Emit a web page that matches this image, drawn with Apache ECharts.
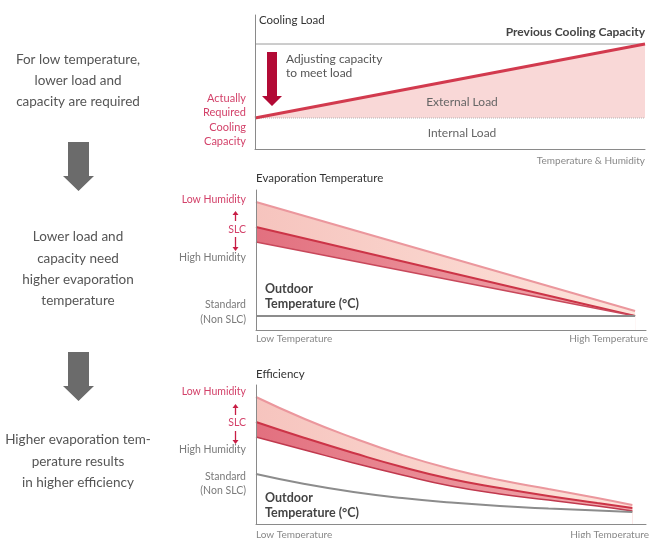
<!DOCTYPE html>
<html>
<head>
<meta charset="utf-8">
<script src="https://cdn.jsdelivr.net/npm/echarts@6/dist/echarts.min.js"></script>
<style>
  html, body { margin: 0; padding: 0; background: #fff; }
  #chart { width: 649px; height: 538px; }
</style>
</head>
<body>
<div id="chart"></div>
<script>
// cooling load panel (x: temperature & humidity 0..100)
const xLoad = [0, 100]
const requiredCapacity = [31, 105]
const internalLoad = [31, 31]
const previousCapacity = [105, 105]

// evaporation temperature panel
const xEvap = [0, 97.2]
const evapLowHumidity = [128, 19]
const evapSlc = [103, 14]
const evapHighHumidity = [88, 14]
const evapStandard = [14, 14]

// efficiency panel
const xEff = [0, 12.5, 25, 37.5, 50, 62.5, 75, 87.5, 96.5]
const effLowHumidity = [127, 105, 86, 69, 55, 44, 35, 26, 19]
const effSlc = [102, 86, 71, 57, 45, 36, 28, 21, 16]
const effHighHumidity = [87, 74, 61, 49, 38, 30, 24, 18, 13]
const effStandard = [50, 40, 32, 26, 21.5, 18, 15.5, 13.5, 12]

const FONT = 'Lato'
const RED = '#d3426a'
const GRAY_TXT = '#7a7a7a'

const pairs = (xs, ys) => xs.map((x, i) => [x, ys[i]])

const chart = echarts.init(document.getElementById('chart'))

const hGrad = (c0, c1) => ({
  type: 'linear', x: 0, y: 0, x2: 1, y2: 0,
  colorStops: [{ offset: 0, color: c0 }, { offset: 1, color: c1 }]
})

const axisPair = (gi, yMax, axisColor, w) => ({
  x: {
    gridIndex: gi, type: 'value', min: 0, max: 100, z: 20,
    axisLine: { show: true, lineStyle: { color: axisColor, width: w } },
    axisTick: { show: false }, axisLabel: { show: false }, splitLine: { show: false }
  },
  y: {
    gridIndex: gi, type: 'value', min: 0, max: yMax, z: 20,
    axisLine: { show: true, onZero: false, lineStyle: { color: axisColor, width: w } },
    axisTick: { show: false }, axisLabel: { show: false }, splitLine: { show: false }
  }
})

const a0 = axisPair(0, 134, '#8a8a8a', 1)
const a1 = axisPair(1, 140, '#8a8a8a', 1)
const a2 = axisPair(2, 139, '#8a8a8a', 1)

const txt = (x, y, text, opt) => ({
  type: 'text', x: x, y: y, silent: true, z: 100,
  style: Object.assign({
    text: text, fontFamily: FONT, fontSize: 11, fill: GRAY_TXT,
    verticalAlign: 'middle', align: 'left'
  }, opt || {})
})

const grayArrow = (top) => ({
  type: 'polygon', silent: true, z: 100,
  shape: { points: [[68, top], [89, top], [89, top + 34], [94, top + 34], [78.5, top + 49], [63, top + 34], [68, top + 34]] },
  style: { fill: '#6b6b6b' }
})

const smallArrow = (x, y0, y1) => {
  // line from y0 to y1, head at y1
  const dir = y1 > y0 ? 1 : -1
  return [
    { type: 'line', silent: true, z: 100, shape: { x1: x, y1: y0, x2: x, y2: y1 - dir * 3 }, style: { stroke: '#c81e45', lineWidth: 1.3 } },
    { type: 'polygon', silent: true, z: 100, shape: { points: [[x - 3, y1 - dir * 4], [x + 3, y1 - dir * 4], [x, y1]] }, style: { fill: '#c81e45' } }
  ]
}

const leftText = (lines, y0, step) => lines.map((s, i) =>
  txt(78, y0 + i * step, s, { align: 'center', fontSize: 13.5, fill: '#555' }))

const sideLabels = (yLow, ySlc, yHigh, yStd, yNon) => [
  txt(246, yLow, 'Low Humidity', { align: 'right', fill: RED, fontSize: 10.5 }),
  txt(246, ySlc, 'SLC', { align: 'right', fill: RED, fontSize: 10.5 }),
  txt(246, yHigh, 'High Humidity', { align: 'right', fontSize: 10.5 }),
  txt(246, yStd, 'Standard', { align: 'right', fontSize: 10.5 }),
  txt(246, yNon, '(Non SLC)', { align: 'right', fontSize: 10.5 })
]

const outdoor = (y) => [
  txt(265, y, 'Outdoor', { fill: '#444', fontSize: 12.5, fontWeight: 'bold' }),
  txt(265, y + 15, 'Temperature (°C)', { fill: '#444', fontSize: 12.5, fontWeight: 'bold' })
]

const graphics = [].concat(
  leftText(['For low temperature,', 'lower load and', 'capacity are required'], 60, 21),
  [grayArrow(142)],
  leftText(['Lower load and', 'capacity need', 'higher evaporation', 'temperature'], 237, 21.3),
  [grayArrow(352)],
  leftText(['Higher evaporation tem-', 'perature results', 'in higher efficiency'], 440, 21.5),

  // panel 1
  [
    txt(259, 20, 'Cooling Load', { fill: '#333', fontSize: 11.5 }),
    txt(645, 32, 'Previous Cooling Capacity', { align: 'right', fill: '#444', fontWeight: 'bold', fontSize: 12 }),
    txt(286, 59, 'Adjusting capacity', { fill: '#555', fontSize: 12 }),
    txt(286, 73, 'to meet load', { fill: '#555', fontSize: 12 }),
    txt(462, 102, 'External Load', { align: 'center', fill: '#666', fontSize: 12 }),
    txt(462, 133, 'Internal Load', { align: 'center', fill: '#666', fontSize: 12 }),
    txt(645, 161, 'Temperature & Humidity', { align: 'right', fontSize: 10, fill: '#888' }),
    txt(246, 98, 'Actually', { align: 'right', fill: RED }),
    txt(246, 112.5, 'Required', { align: 'right', fill: RED }),
    txt(246, 127, 'Cooling', { align: 'right', fill: RED }),
    txt(246, 141.5, 'Capacity', { align: 'right', fill: RED }),
    {
      type: 'polygon', silent: true, z: 100,
      shape: { points: [[267, 52], [277, 52], [277, 96], [282, 96], [272, 106], [262, 96], [267, 96]] },
      style: { fill: '#b20a35' }
    }
  ],

  // panel 2
  [
    txt(256, 178, 'Evaporation Temperature', { fill: '#333', fontSize: 11.5 }),
    txt(256, 339, 'Low Temperature', { fontSize: 10, fill: '#888' }),
    txt(648, 339, 'High Temperature', { align: 'right', fontSize: 10, fill: '#888' })
  ],
  outdoor(289),
  sideLabels(200, 230, 258, 305, 320),
  smallArrow(235.5, 221, 211),
  smallArrow(235.5, 237, 251),

  // panel 3
  [
    txt(256, 374, 'Efficiency', { fill: '#333', fontSize: 11.5 }),
    txt(256, 535, 'Low Temperature', { fontSize: 10, fill: '#888' }),
    txt(649, 535, 'High Temperature', { align: 'right', fontSize: 10, fill: '#888' })
  ],
  outdoor(498),
  sideLabels(392, 423, 450, 477, 491),
  smallArrow(235.5, 415, 404),
  smallArrow(235.5, 431, 444)
)

const line = (gi, xs, ys, z, lineStyle, area, extra) => Object.assign({
  type: 'line', xAxisIndex: gi, yAxisIndex: gi, z: z,
  data: pairs(xs, ys),
  showSymbol: false, symbol: 'none', silent: true,
  lineStyle: lineStyle,
  areaStyle: area ? { color: area, opacity: 1, origin: 'start' } : undefined
}, extra || {})

const curve = { smooth: 0.5 }

const upperBand = hGrad('#f6c4be', '#fde4db')
const lowerBand = hGrad('#e2707f', '#f2adb0')

const option = {
  animation: false,
  grid: [
    { left: 255, top: 15, width: 390, height: 134 },
    { left: 256, top: 190, width: 390, height: 140 },
    { left: 256, top: 385, width: 390, height: 139 }
  ],
  xAxis: [a0.x, a1.x, a2.x],
  yAxis: [a0.y, a1.y, a2.y],
  graphic: graphics,
  series: [
    // panel 1: pink external load, internal load masked white
    line(0, xLoad, previousCapacity, 2, { color: '#9a9a9a', width: 1 }),
    line(0, xLoad, requiredCapacity, 2, { width: 0 }, '#f9d8d7'),
    line(0, xLoad, internalLoad, 3, { color: '#b5b5b5', width: 1, type: 'dotted' }, '#ffffff'),
    line(0, xLoad, requiredCapacity, 4, { color: '#d23a4e', width: 3 }),

    // panel 2: bands drawn top-down, white mask below high humidity
    line(1, xEvap, evapLowHumidity, 2, { color: '#eb979d', width: 2 }, upperBand),
    line(1, xEvap, evapSlc, 3, { color: '#cc3447', width: 2 }, lowerBand),
    line(1, xEvap, evapHighHumidity, 4, { color: '#c8485b', width: 1.5 }, '#ffffff'),
    line(1, xEvap, evapStandard, 5, { color: '#8c8c8c', width: 2 }),

    // panel 3
    line(2, xEff, effLowHumidity, 2, { color: '#eb979d', width: 2 }, upperBand, curve),
    line(2, xEff, effSlc, 3, { color: '#cc3447', width: 2 }, lowerBand, curve),
    line(2, xEff, effHighHumidity, 4, { color: '#c0394e', width: 1.5 }, '#ffffff', curve),
    line(2, xEff, effStandard, 5, { color: '#8c8c8c', width: 2 }, null, curve)
  ]
}

chart.setOption(option)
</script>
</body>
</html>
